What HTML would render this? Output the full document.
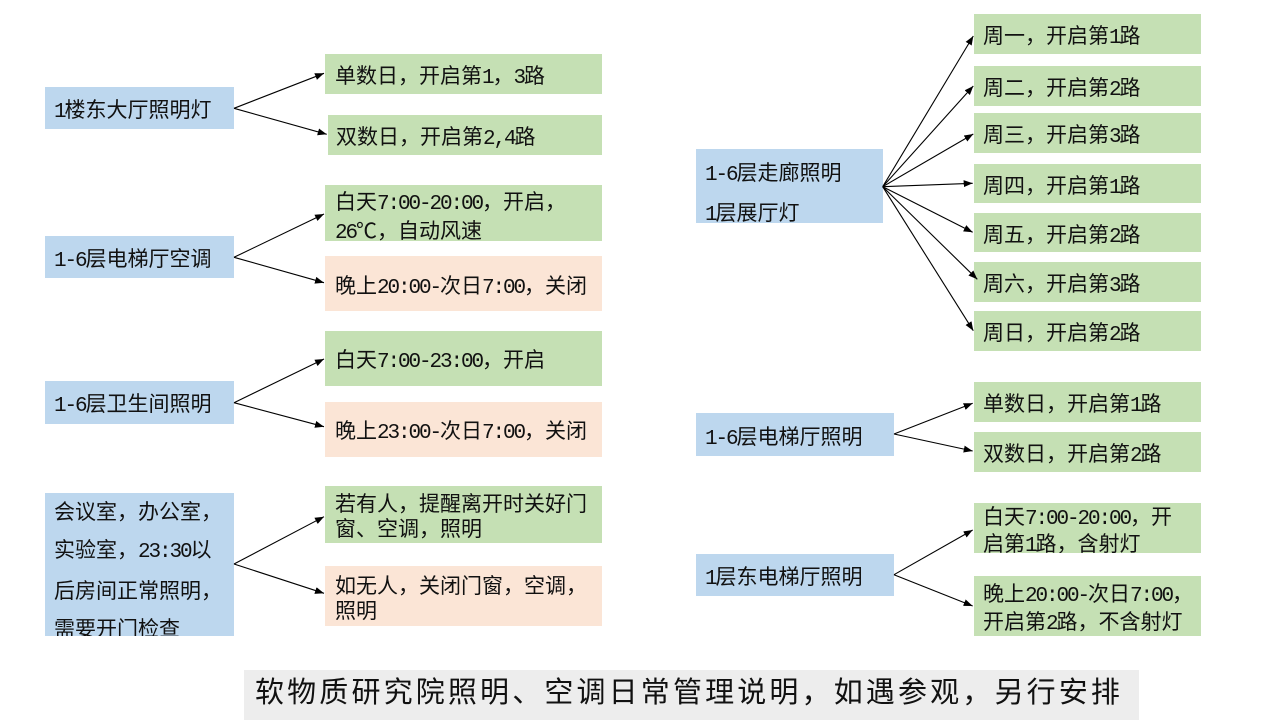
<!DOCTYPE html>
<html>
<head>
<meta charset="utf-8">
<style>
  html,body{margin:0;padding:0;background:#fff;}
  body{width:1280px;height:720px;position:relative;overflow:hidden;
       font-family:"Liberation Sans","Noto Sans CJK SC",sans-serif;color:#111;}
  .b{position:absolute;box-sizing:border-box;white-space:nowrap;font-size:21px;overflow:hidden;}
  .blue{background:#BDD7EE;}
  .green{background:#C5E0B4;}
  .peach{background:#FBE5D6;}
  .m{font-family:"Liberation Mono","Noto Sans CJK SC",monospace;letter-spacing:-2.1px;}
  .l{display:block;}
  svg{position:absolute;left:0;top:0;}
  .title{position:absolute;left:244px;top:670px;width:895px;height:50px;background:#EDEDED;}
  .tt{position:absolute;left:255px;top:668px;height:50px;line-height:50px;font-size:29px;letter-spacing:3.15px;white-space:nowrap;color:#111;
      font-family:"Liberation Sans","Noto Sans CJK SC",sans-serif;}
</style>
</head>
<body>

<!-- Left column -->
<div class="b blue" style="left:45px;top:87px;width:189px;height:42px;line-height:47px;padding-left:9px;"><span class="m">1</span>楼东大厅照明灯</div>
<div class="b green" style="left:325px;top:54px;width:277px;height:40px;line-height:45px;padding-left:10px;">单数日，开启第<span class="m">1</span>，<span class="m">3</span>路</div>
<div class="b green" style="left:328px;top:115px;width:274px;height:40px;line-height:46px;padding-left:8px;">双数日，开启第<span class="m">2,4</span>路</div>

<div class="b blue" style="left:45px;top:236px;width:189px;height:42px;line-height:48px;padding-left:9px;"><span class="m">1-6</span>层电梯厅空调</div>
<div class="b green" style="left:325px;top:185px;width:277px;height:56px;line-height:26.5px;padding-left:10px;padding-top:5px;">
  <span class="l">白天<span class="m">7:00-20:00</span>，开启，</span>
  <span class="l"><span class="m">26</span>℃，自动风速</span>
</div>
<div class="b peach" style="left:325px;top:256px;width:277px;height:55px;line-height:62px;padding-left:10px;">晚上<span class="m">20:00-</span>次日<span class="m">7:00</span>，关闭</div>

<div class="b blue" style="left:45px;top:381px;width:189px;height:43px;line-height:48px;padding-left:9px;"><span class="m">1-6</span>层卫生间照明</div>
<div class="b green" style="left:325px;top:331px;width:277px;height:55px;line-height:59px;padding-left:10px;">白天<span class="m">7:00-23:00</span>，开启</div>
<div class="b peach" style="left:325px;top:402px;width:277px;height:55px;line-height:59px;padding-left:10px;">晚上<span class="m">23:00-</span>次日<span class="m">7:00</span>，关闭</div>

<div class="b blue" style="left:45px;top:493px;width:189px;height:143px;">
  <div style="position:absolute;left:9px;top:1px;line-height:38.3px;">
    <span class="l">会议室，办公室，</span>
    <span class="l">实验室，<span class="m">23:30</span>以</span>
    <span class="l">后房间正常照明，</span>
    <span class="l">需要开门检查</span>
  </div>
</div>
<div class="b green" style="left:325px;top:486px;width:277px;height:57px;line-height:25px;padding-left:10px;padding-top:6px;">
  <span class="l">若有人，提醒离开时关好门</span>
  <span class="l">窗、空调，照明</span>
</div>
<div class="b peach" style="left:325px;top:566px;width:277px;height:60px;line-height:25px;padding-left:10px;padding-top:8px;">
  <span class="l">如无人，关闭门窗，空调，</span>
  <span class="l">照明</span>
</div>

<!-- Right column -->
<div class="b blue" style="left:696px;top:149px;width:187px;height:74px;line-height:38.5px;padding-left:9px;padding-top:5.5px;">
  <span class="l"><span class="m">1-6</span>层走廊照明</span>
  <span class="l"><span class="m">1</span>层展厅灯</span>
</div>
<div class="b green" style="left:974px;top:14px;width:227px;height:40px;line-height:46px;padding-left:9px;">周一，开启第<span class="m">1</span>路</div>
<div class="b green" style="left:974px;top:66px;width:227px;height:40px;line-height:46px;padding-left:9px;">周二，开启第<span class="m">2</span>路</div>
<div class="b green" style="left:974px;top:113px;width:227px;height:40px;line-height:46px;padding-left:9px;">周三，开启第<span class="m">3</span>路</div>
<div class="b green" style="left:974px;top:164px;width:227px;height:39px;line-height:45px;padding-left:9px;">周四，开启第<span class="m">1</span>路</div>
<div class="b green" style="left:974px;top:213px;width:227px;height:39px;line-height:45px;padding-left:9px;">周五，开启第<span class="m">2</span>路</div>
<div class="b green" style="left:974px;top:262px;width:227px;height:40px;line-height:46px;padding-left:9px;">周六，开启第<span class="m">3</span>路</div>
<div class="b green" style="left:974px;top:311px;width:227px;height:40px;line-height:46px;padding-left:9px;">周日，开启第<span class="m">2</span>路</div>

<div class="b blue" style="left:696px;top:413px;width:198px;height:43px;line-height:49px;padding-left:9px;"><span class="m">1-6</span>层电梯厅照明</div>
<div class="b green" style="left:974px;top:382px;width:227px;height:40px;line-height:46px;padding-left:9px;">单数日，开启第<span class="m">1</span>路</div>
<div class="b green" style="left:974px;top:432px;width:227px;height:40px;line-height:46px;padding-left:9px;">双数日，开启第<span class="m">2</span>路</div>

<div class="b blue" style="left:696px;top:554px;width:198px;height:42px;line-height:48px;padding-left:9px;"><span class="m">1</span>层东电梯厅照明</div>
<div class="b green" style="left:974px;top:503px;width:227px;height:50px;line-height:25px;padding-left:9px;padding-top:2px;">
  <span class="l">白天<span class="m">7:00-20:00</span>，开</span>
  <span class="l">启第<span class="m">1</span>路，含射灯</span>
</div>
<div class="b green" style="left:974px;top:576px;width:227px;height:60px;line-height:25.5px;padding-left:9px;padding-top:6px;">
  <span class="l">晚上<span class="m">20:00-</span>次日<span class="m">7:00</span>，</span>
  <span class="l">开启第<span class="m">2</span>路，不含射灯</span>
</div>

<!-- Title -->
<div class="title"></div>
<div class="tt">软物质研究院照明、空调日常管理说明，如遇参观，另行安排</div>

<!-- Arrows -->
<svg width="1280" height="720" viewBox="0 0 1280 720">
  <defs>
    <marker id="ah" markerUnits="userSpaceOnUse" markerWidth="10" markerHeight="8" refX="9" refY="3.5" orient="auto">
      <path d="M0,0 L9,3.5 L0,7 z" fill="#000"/>
    </marker>
  </defs>
  <g stroke="#000" stroke-width="1.1" fill="none" marker-end="url(#ah)">
    <line x1="234" y1="108.3" x2="324" y2="73.3"/>
    <line x1="234" y1="108.3" x2="326.7" y2="134.3"/>
    <line x1="234" y1="257.3" x2="324" y2="214"/>
    <line x1="234" y1="257.3" x2="324" y2="282.7"/>
    <line x1="234" y1="402.7" x2="324" y2="359"/>
    <line x1="234" y1="402.7" x2="324" y2="426.7"/>
    <line x1="234" y1="564" x2="324" y2="516.7"/>
    <line x1="234" y1="564" x2="324" y2="593.3"/>

    <line x1="882.7" y1="186.7" x2="973.3" y2="36"/>
    <line x1="882.7" y1="186.7" x2="973.3" y2="86"/>
    <line x1="882.7" y1="186.7" x2="973.3" y2="134"/>
    <line x1="882.7" y1="186.7" x2="972.7" y2="183.3"/>
    <line x1="882.7" y1="186.7" x2="972.7" y2="232.3"/>
    <line x1="882.7" y1="186.7" x2="977.3" y2="279.3"/>
    <line x1="882.7" y1="186.7" x2="973.3" y2="330.7"/>

    <line x1="894" y1="434" x2="972.7" y2="403.3"/>
    <line x1="894" y1="434" x2="972.7" y2="451"/>
    <line x1="894" y1="574.7" x2="972.7" y2="530"/>
    <line x1="894" y1="574.7" x2="972.7" y2="606"/>
  </g>
</svg>

</body>
</html>
